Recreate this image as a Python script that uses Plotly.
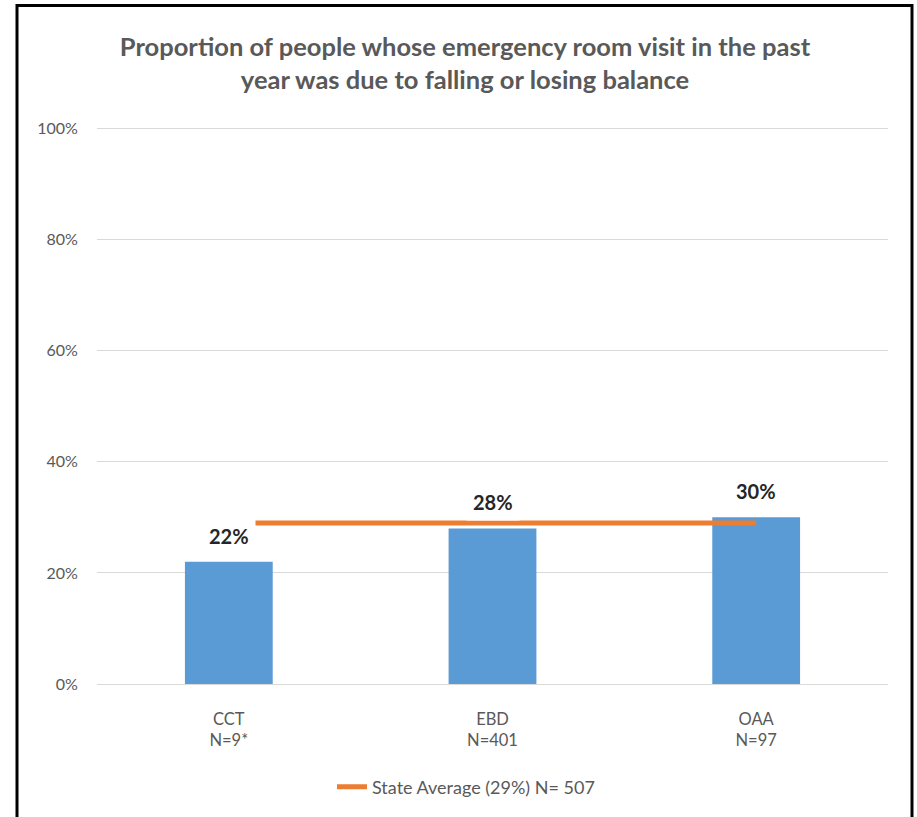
import plotly.graph_objects as go

# ---- data ----
categories = ["CCT", "EBD", "OAA"]
sample_sizes = ["N=9*", "N=401", "N=97"]
proportions = [0.22, 0.28, 0.30]
state_average = 0.29
state_n = 507
title_lines = ["Proportion of people whose emergency room visit in the past",
               "year was due to falling or losing balance"]
y_ticks = [0, 0.2, 0.4, 0.6, 0.8, 1.0]

BAR_COLOR = "#5B9BD5"
LINE_COLOR = "#ED7D31"
TEXT_GRAY = "#595959"
FONT = "Lato"

# layout geometry (pixels)
W, H = 917, 817
PLOT_L, PLOT_R = 97, 888
PLOT_B = 684
PX_PER_UNIT = 555
Y_TOP = 1.01
plot_h = Y_TOP * PX_PER_UNIT
plot_w = PLOT_R - PLOT_L


def py(pix):
    """pixel row -> paper y fraction"""
    return (PLOT_B - pix) / plot_h


def px(pix):
    return (pix - PLOT_L) / plot_w


fig = go.Figure()

fig.add_trace(go.Bar(
    x=categories,
    y=proportions,
    marker=dict(color=BAR_COLOR, line=dict(width=0)),
    width=0.333,
    showlegend=False,
    hoverinfo="skip",
))

fig.add_trace(go.Scatter(
    x=categories,
    y=[state_average] * len(categories),
    mode="lines",
    line=dict(color=LINE_COLOR, width=5),
    name=f"State Average ({state_average:.0%}) N= {state_n}",
    showlegend=True,
    hoverinfo="skip",
))

# data labels (white box, drawn above the average line)
for cat, val in zip(categories, proportions):
    fig.add_annotation(
        x=cat, y=val, xref="x", yref="y",
        text=f"{val:.0%}",
        showarrow=False,
        yanchor="middle",
        yshift=26,
        font=dict(family=FONT, size=20, color="#262626", weight="bold"),
        bgcolor="white",
        borderpad=6,
    )

# outer frame of the chart image
fig.add_shape(
    type="rect", xref="paper", yref="paper",
    x0=px(17), x1=px(912), y0=py(830), y1=py(6),
    line=dict(color="black", width=3),
    fillcolor="rgba(0,0,0,0)",
    layer="above",
)

fig.update_layout(
    width=W, height=H,
    margin=dict(l=PLOT_L, r=W - PLOT_R, t=PLOT_B - plot_h, b=H - PLOT_B, pad=0),
    paper_bgcolor="white",
    plot_bgcolor="white",
    font=dict(family=FONT, color=TEXT_GRAY),
    title=dict(
        text="<br>".join(title_lines),
        font=dict(family=FONT, size=25.5, color=TEXT_GRAY, weight="bold"),
        x=465 / W, xref="container", xanchor="center",
        y=1 - 56 / H, yref="container", yanchor="middle",
        automargin=False,
    ),
    xaxis=dict(
        type="category",
        tickvals=categories,
        ticktext=[f"{c}<br>{n}" for c, n in zip(categories, sample_sizes)],
        tickfont=dict(family=FONT, size=16.5, color=TEXT_GRAY),
        showgrid=False,
        showline=False,
        zeroline=False,
        ticks="outside", ticklen=20, tickcolor="rgba(0,0,0,0)",
        range=[-0.5, 2.5],
    ),
    yaxis=dict(
        range=[0, Y_TOP],
        tickvals=y_ticks,
        tickformat=".0%",
        tickfont=dict(family=FONT, size=16, color=TEXT_GRAY),
        showgrid=True, gridcolor="#D9D9D9", gridwidth=1,
        zeroline=True, zerolinecolor="#D9D9D9", zerolinewidth=1,
        showline=False,
        ticks="outside", ticklen=15, tickcolor="rgba(0,0,0,0)",
    ),
    legend=dict(
        orientation="h",
        x=px(466), xanchor="center",
        y=py(787), yanchor="middle",
        font=dict(family=FONT, size=18, color=TEXT_GRAY),
        bgcolor="rgba(0,0,0,0)",
        itemwidth=30,
    ),
    bargap=0.667,
)

fig.write_html("out.html", post_script="document.body.style.margin='0';",
               config={"displayModeBar": False})
